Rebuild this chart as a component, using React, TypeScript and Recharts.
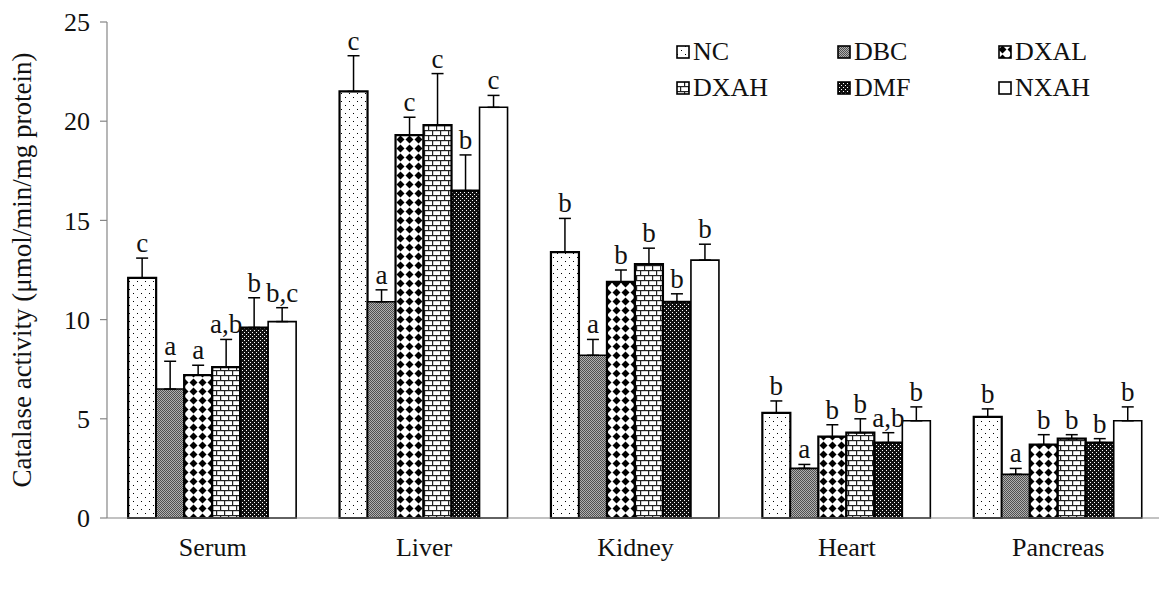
import React from 'react';
import { BarChart, Bar, XAxis, YAxis, ErrorBar, LabelList } from 'recharts';

const categories = ['Serum', 'Liver', 'Kidney', 'Heart', 'Pancreas'];
const seriesNames = ['NC', 'DBC', 'DXAL', 'DXAH', 'DMF', 'NXAH'];

const NC = [12.1, 21.5, 13.4, 5.3, 5.1];
const DBC = [6.5, 10.9, 8.2, 2.5, 2.2];
const DXAL = [7.2, 19.3, 11.9, 4.1, 3.7];
const DXAH = [7.6, 19.8, 12.8, 4.3, 4.0];
const DMF = [9.6, 16.5, 10.9, 3.8, 3.8];
const NXAH = [9.9, 20.7, 13.0, 4.9, 4.9];

const NC_err = [1.0, 1.8, 1.7, 0.6, 0.4];
const DBC_err = [1.4, 0.6, 0.8, 0.2, 0.3];
const DXAL_err = [0.5, 0.9, 0.6, 0.6, 0.5];
const DXAH_err = [1.4, 2.6, 0.8, 0.7, 0.2];
const DMF_err = [1.5, 1.8, 0.4, 0.5, 0.2];
const NXAH_err = [0.7, 0.6, 0.8, 0.7, 0.7];

const NC_sig = ['c', 'c', 'b', 'b', 'b'];
const DBC_sig = ['a', 'a', 'a', 'a', 'a'];
const DXAL_sig = ['a', 'c', 'b', 'b', 'b'];
const DXAH_sig = ['a,b', 'c', 'b', 'b', 'b'];
const DMF_sig = ['b', 'b', 'b', 'a,b', 'b'];
const NXAH_sig = ['b,c', 'c', 'b', 'b', 'b'];

const yTicks = [0, 5, 10, 15, 20, 25];
const boundaryTicks = [1, 2, 3, 4];

const values: Record<string, number[]> = { NC, DBC, DXAL, DXAH, DMF, NXAH };
const errs: Record<string, number[]> = {
  NC: NC_err, DBC: DBC_err, DXAL: DXAL_err, DXAH: DXAH_err, DMF: DMF_err, NXAH: NXAH_err,
};
const sigs: Record<string, string[]> = {
  NC: NC_sig, DBC: DBC_sig, DXAL: DXAL_sig, DXAH: DXAH_sig, DMF: DMF_sig, NXAH: NXAH_sig,
};

const data = categories.map((c, i) => {
  const row: any = { name: c };
  seriesNames.forEach((s) => {
    row[s] = values[s][i];
    row[s + '_e'] = [0, errs[s][i]];
  });
  return row;
});

const FONT = '"Liberation Serif", "Times New Roman", Times, serif';
const fills: Record<string, string> = {
  NC: 'url(#pNC)', DBC: 'url(#pDBC)', DXAL: 'url(#pDXAL)', DXAH: 'url(#pDXAH)', DMF: 'url(#pDMF)', NXAH: '#ffffff',
};
const strokeW: Record<string, number> = { NC: 2.2, DBC: 1.6, DXAL: 2.2, DXAH: 2.2, DMF: 2.2, NXAH: 1.6 };

const Patterns = () => (
  <svg width={0} height={0} style={{ position: 'absolute' }}>
    <defs>
      <pattern id="pNC" width={8} height={8} patternUnits="userSpaceOnUse">
        <rect width={8} height={8} fill="#fff" />
        <rect x={1} y={1} width={1} height={1} fill="#000" />
        <rect x={5} y={5} width={1} height={1} fill="#000" />
      </pattern>
      <pattern id="pDBC" width={2} height={2} patternUnits="userSpaceOnUse">
        <rect width={2} height={2} fill="#b0b0b0" />
        <rect x={0} y={0} width={1} height={1} fill="#505050" />
        <rect x={1} y={1} width={1} height={1} fill="#505050" />
      </pattern>
      <pattern id="pDXAL" width={9} height={9} patternUnits="userSpaceOnUse">
        <rect width={9} height={9} fill="#fff" />
        <polygon points="4.5,0.5 8.5,4.5 4.5,8.5 0.5,4.5" fill="#000" />
      </pattern>
      <pattern id="pDXAH" width={8} height={10} patternUnits="userSpaceOnUse">
        <rect width={8} height={10} fill="#fff" />
        <rect x={0} y={0} width={8} height={1.2} fill="#222" />
        <rect x={0} y={5} width={8} height={1.2} fill="#222" />
        <rect x={0} y={0} width={1.2} height={5} fill="#222" />
        <rect x={4} y={5} width={1.2} height={5} fill="#222" />
      </pattern>
      <pattern id="pDMF" width={4} height={4} patternUnits="userSpaceOnUse">
        <rect width={4} height={4} fill="#111" />
        <rect x={0} y={0} width={1} height={1} fill="#fff" />
        <rect x={2} y={2} width={1} height={1} fill="#fff" />
      </pattern>
    </defs>
  </svg>
);

const makeLabel = (s: string) => (props: any) => {
  const { x, y, width, height, value, index } = props;
  const v = Number(value);
  const pxPerUnit = v ? height / v : 0;
  const top = y - errs[s][index] * pxPerUnit;
  return (
    <text
      x={x + width / 2}
      y={top - 6}
      textAnchor="middle"
      fontFamily={FONT}
      fontSize={27}
      fill="#111"
    >
      {sigs[s][index]}
    </text>
  );
};

const LegendBlock = () => (
  <div
    style={{
      position: 'absolute',
      left: 676,
      top: 38,
      display: 'grid',
      gridTemplateColumns: '161px 161px 161px',
      rowGap: 8,
      fontFamily: FONT,
      fontSize: 26,
      color: '#111',
      lineHeight: '28px',
    }}
  >
    {seriesNames.map((s) => (
      <div key={s} style={{ display: 'flex', alignItems: 'center', height: 28 }}>
        <svg width={14} height={14} style={{ marginRight: 3 }}>
          <rect x={1} y={1} width={12} height={12} fill={fills[s]} stroke="#000" strokeWidth={1.6} />
        </svg>
        <span>{s}</span>
      </div>
    ))}
  </div>
);

const EmptyTick = () => <g />;

export default function App() {
  return (
    <div style={{ position: 'absolute', left: 0, top: 0, width: 1159, height: 593, overflow: 'hidden', background: '#fff' }}>
      <Patterns />
      <BarChart
        width={1170}
        height={593}
        data={data}
        margin={{ top: 22, right: 6, bottom: 15, left: 0 }}
        barCategoryGap="10%"
        barGap={0}
      >
        <XAxis
          xAxisId="bound"
          type="number"
          domain={[0, 5]}
          ticks={boundaryTicks}
          tick={EmptyTick}
          axisLine={false}
          tickLine={{ stroke: '#868686', strokeWidth: 1.2 }}
          tickSize={7}
          height={0}
        />
        <XAxis
          dataKey="name"
          xAxisId="cat"
          height={60}
          tickLine={false}
          axisLine={{ stroke: '#868686', strokeWidth: 1.2 }}
          tick={{ fontFamily: FONT, fontSize: 26, fill: '#111' }}
          tickMargin={14}
        />
        <YAxis
          width={107}
          domain={[0, 25]}
          ticks={yTicks}
          axisLine={{ stroke: '#868686', strokeWidth: 1.2 }}
          tickLine={{ stroke: '#868686', strokeWidth: 1.2 }}
          tickSize={7}
          tick={{ fontFamily: FONT, fontSize: 26, fill: '#111' }}
          tickMargin={10}
          label={{
            content: () => (
              <text
                x={22}
                y={270}
                transform="rotate(-90 22 270)"
                textAnchor="middle"
                dominantBaseline="central"
                fontFamily={FONT}
                fontSize={27}
                fill="#111"
              >
                Catalase activity (μmol/min/mg protein)
              </text>
            ),
          }}
        />
        {seriesNames.map((s) => (
          <Bar
            key={s}
            xAxisId="cat"
            dataKey={s}
            fill={fills[s]}
            stroke="#000"
            strokeWidth={strokeW[s]}
            isAnimationActive={false}
          >
            <ErrorBar dataKey={s + '_e'} width={6} stroke="#000" strokeWidth={1.5} direction="y" />
            <LabelList dataKey={s} content={makeLabel(s)} />
          </Bar>
        ))}
      </BarChart>
      <LegendBlock />
    </div>
  );
}
